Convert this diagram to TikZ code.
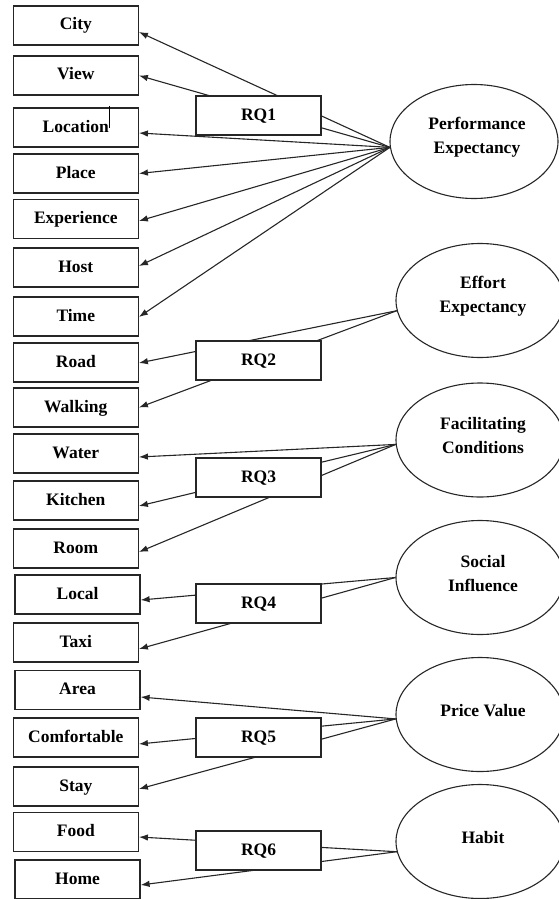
\documentclass[tikz,border=0pt]{standalone}
\usepackage{fontspec}
\setmainfont{Liberation Serif}
\usetikzlibrary{arrows.meta,shapes.geometric}
\begin{document}
\begin{tikzpicture}[x=1pt,y=-1pt,
  every node/.style={font=\bfseries\fontsize{17.5}{24}\selectfont},
  item/.style={draw=black!85,line width=1.2pt,minimum width=125pt,minimum height=39pt,inner sep=0pt,text height=12pt,text depth=3pt},
  rq/.style={item,fill=white},
  construct/.style={draw=black!85,line width=1.1pt,ellipse,minimum width=168pt,minimum height=114pt,inner sep=0pt},
  ctext/.style={align=center,xshift=3pt,yshift=4pt},
  link/.style={draw=black!85,line width=1.1pt,-{Latex[length=9pt,width=6.5pt]}}
]
\useasboundingbox (0,0) rectangle (559,899);

% left item boxes
\node[item] (city) at (75.8,25.5) {City};
\node[item] (view) at (75.8,75.5) {View};
\node[item] (location) at (75.8,127.5) {Location};
\node[item] (place) at (75.8,173.5) {Place};
\node[item] (experience) at (75.8,219) {Experience};
\node[item] (host) at (75.8,267.5) {Host};
\node[item] (time) at (75.8,316.5) {Time};
\node[item] (road) at (75.8,362.5) {Road};
\node[item] (walking) at (75.8,407.5) {Walking};
\node[item] (water) at (75.8,453.5) {Water};
\node[item] (kitchen) at (75.8,500.5) {Kitchen};
\node[item] (room) at (75.8,548.5) {Room};
\node[item] (local) at (77.5,594.5) {Local};
\node[item] (taxi) at (75.8,642.5) {Taxi};
\node[item] (area) at (77.5,690) {Area};
\node[item] (comfortable) at (75.8,737.5) {Comfortable};
\node[item] (stay) at (75.8,786.5) {Stay};
\node[item] (food) at (75.8,832) {Food};
\node[item] (home) at (77.5,879.5) {Home};

% cursor mark in the Location box
\draw[line width=0.6pt] (109,106) -- (109,128);

% constructs
\node[construct,label={[ctext]center:Performance\\Expectancy}] (pe) at (474,141.5) {};
\node[construct,label={[ctext]center:Effort\\Expectancy}] (ee) at (480,300.5) {};
\node[construct,label={[ctext]center:Facilitating\\Conditions}] (fc) at (480,440) {};
\node[construct,label={[ctext]center:Social\\Influence}] (si) at (480,577.5) {};
\node[construct,label={[ctext]center:Price Value}] (pv) at (480,714.5) {};
\node[construct,label={[ctext]center:Habit}] (hb) at (480,841.5) {};

% connectors
\draw[link] (pe.184.4) -- ([yshift=-6.5pt]city.east);
\draw[link] (pe.184.4) -- (view.east);
\draw[link] (pe.184.4) -- ([yshift=-5.5pt]location.east);
\draw[link] (pe.184.4) -- (place.east);
\draw[link] (pe.184.4) -- ([yshift=-2pt]experience.east);
\draw[link] (pe.184.4) -- ([yshift=1.5pt]host.east);
\draw[link] (pe.184.4) -- ([yshift=-0.5pt]time.east);

\draw[link] (ee.187) -- ([yshift=-0.5pt]road.east);
\draw[link] (ee.187) -- (walking.east);

\draw[link] (fc.183.5) -- ([yshift=-3.5pt]water.east);
\draw[link] (fc.183.5) -- ([yshift=-5.5pt]kitchen.east);
\draw[link] (fc.183.5) -- ([yshift=-3.5pt]room.east);

\draw[link] (si.180) -- ([yshift=-5.5pt]local.east);
\draw[link] (si.180) -- ([yshift=-6.5pt]taxi.east);

\draw[link] (pv.183.2) -- ([yshift=-7pt]area.east);
\draw[link] (pv.183.2) -- ([yshift=-6.5pt]comfortable.east);
\draw[link] (pv.183.2) -- ([yshift=-2.5pt]stay.east);

\draw[link] (hb.187) -- ([yshift=-5pt]food.east);
\draw[link] (hb.187) -- ([yshift=-5.5pt]home.east);

% research question boxes (drawn over the connectors)
\node[rq] (rq1) at (258.5,115.5) {RQ1};
\node[rq] (rq2) at (258.5,360.5) {RQ2};
\node[rq] (rq3) at (258.5,477.5) {RQ3};
\node[rq] (rq4) at (258.5,603.5) {RQ4};
\node[rq] (rq5) at (258.5,737.5) {RQ5};
\node[rq] (rq6) at (258.5,850.5) {RQ6};
\end{tikzpicture}
\end{document}
